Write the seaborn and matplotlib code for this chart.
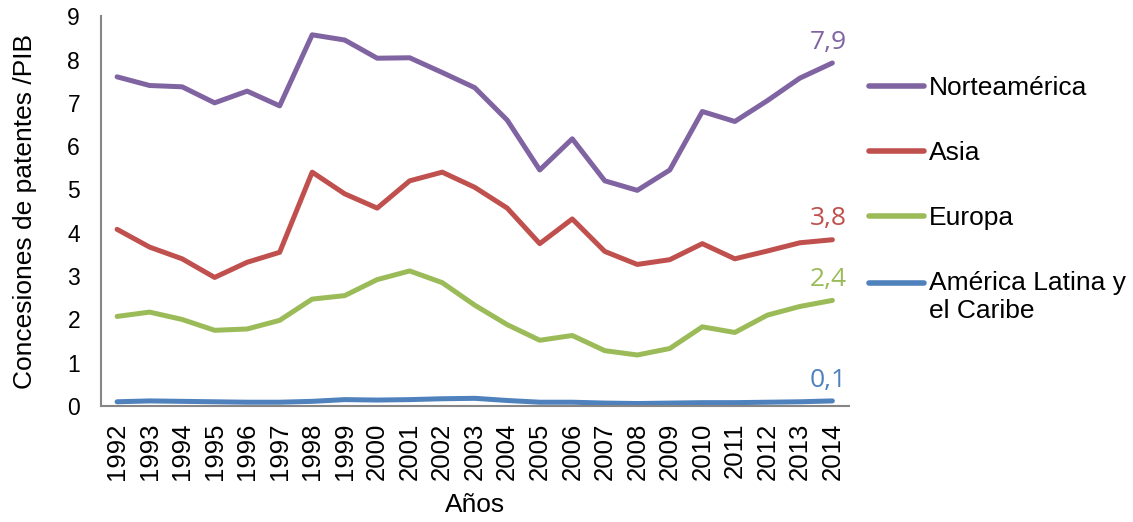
import matplotlib
matplotlib.use("Agg")
import matplotlib.pyplot as plt
import numpy as np
import pandas as pd
import seaborn as sns
from matplotlib.lines import Line2D

sns.set_style("white")
plt.rcParams['font.family'] = ['Liberation Sans', 'DejaVu Sans']
plt.rcParams['text.color'] = 'black'
plt.rcParams['axes.labelcolor'] = 'black'
plt.rcParams['xtick.color'] = 'black'
plt.rcParams['ytick.color'] = 'black'

years = list(range(1992, 2015))
norteamerica = [7.60, 7.40, 7.37, 7.00, 7.27, 6.93, 8.57, 8.45, 8.03, 8.04, 7.70, 7.35,
                6.60, 5.45, 6.17, 5.20, 4.98, 5.45, 6.80, 6.57, 7.05, 7.57, 7.92]
asia = [4.08, 3.67, 3.40, 2.97, 3.32, 3.55, 5.40, 4.90, 4.57, 5.20, 5.40, 5.05,
        4.57, 3.75, 4.32, 3.57, 3.27, 3.38, 3.75, 3.40, 3.58, 3.77, 3.84]
europa = [2.07, 2.17, 2.00, 1.75, 1.78, 1.98, 2.47, 2.55, 2.92, 3.12, 2.85, 2.33,
          1.88, 1.52, 1.63, 1.28, 1.18, 1.33, 1.83, 1.70, 2.10, 2.30, 2.44]
latam = [0.10, 0.12, 0.11, 0.10, 0.09, 0.09, 0.11, 0.15, 0.14, 0.15, 0.17, 0.18,
         0.13, 0.09, 0.09, 0.07, 0.06, 0.07, 0.08, 0.08, 0.09, 0.10, 0.12]

regions = ['Norteamérica', 'Asia', 'Europa', 'América Latina y\nel Caribe']
series = [norteamerica, asia, europa, latam]
colors = ['#8064A2', '#C0504D', '#9BBB59', '#4F81BD']

df = pd.concat([pd.DataFrame({'Años': years, 'value': vals, 'region': name})
                for name, vals in zip(regions, series)])

fig = plt.figure(figsize=(11.33, 5.22), dpi=100)
ax = fig.add_axes([0.089, 0.222, 0.660, 0.747])

sns.lineplot(data=df, x='Años', y='value', hue='region', hue_order=regions,
             palette=dict(zip(regions, colors)), linewidth=3.6, ax=ax,
             legend=False, solid_capstyle='round', solid_joinstyle='round')

# end-of-series data labels
for name, vals, c in zip(regions, series, colors):
    ax.annotate(f"{vals[-1]:.1f}".replace('.', ','), xy=(years[-1], vals[-1]),
                xytext=(-3, 6), textcoords='offset points', ha='center', va='bottom',
                color=c, fontsize=19, family=['Open Sans', 'DejaVu Sans'])

ax.set_xlim(years[0] - 0.5, years[-1] + 0.5)
ax.set_ylim(0, 9)
ax.set_yticks(range(0, 10))
ax.set_xticks(years)
ax.set_xticklabels([str(y) for y in years], rotation=90)
ax.set_xticks(np.arange(years[0] - 0.5, years[-1] + 1), minor=True)
ax.tick_params(axis='x', which='major', length=0, pad=12, labelsize=18.5)
ax.tick_params(axis='x', which='minor', length=7, width=1.3, color='#868686', direction='out')
ax.tick_params(axis='y', length=7, width=1.3, color='#868686', direction='out',
               labelsize=16.5, pad=8)
ax.set_xlabel('Años', fontsize=19, labelpad=9)
ax.set_ylabel('Concesiones de patentes /PIB', fontsize=19, labelpad=22)
for s in ['top', 'right']:
    ax.spines[s].set_visible(False)
for s in ['left', 'bottom']:
    ax.spines[s].set_color('#868686')
    ax.spines[s].set_linewidth(1.5)

handles = [Line2D([], [], color=c, linewidth=4, solid_capstyle='round') for c in colors]
leg = fig.legend(handles, regions, loc='upper left', bbox_to_anchor=(0.755, 0.879),
                 frameon=False, fontsize=19, handlelength=2.1, handletextpad=0.2,
                 labelspacing=1.55, borderpad=0)
# align the last handle with the first line of its two-line label
h = leg.legend_handles[-1]
h.set_ydata(np.asarray(h.get_ydata()) + 10)

fig.savefig('out.png', dpi=100)
